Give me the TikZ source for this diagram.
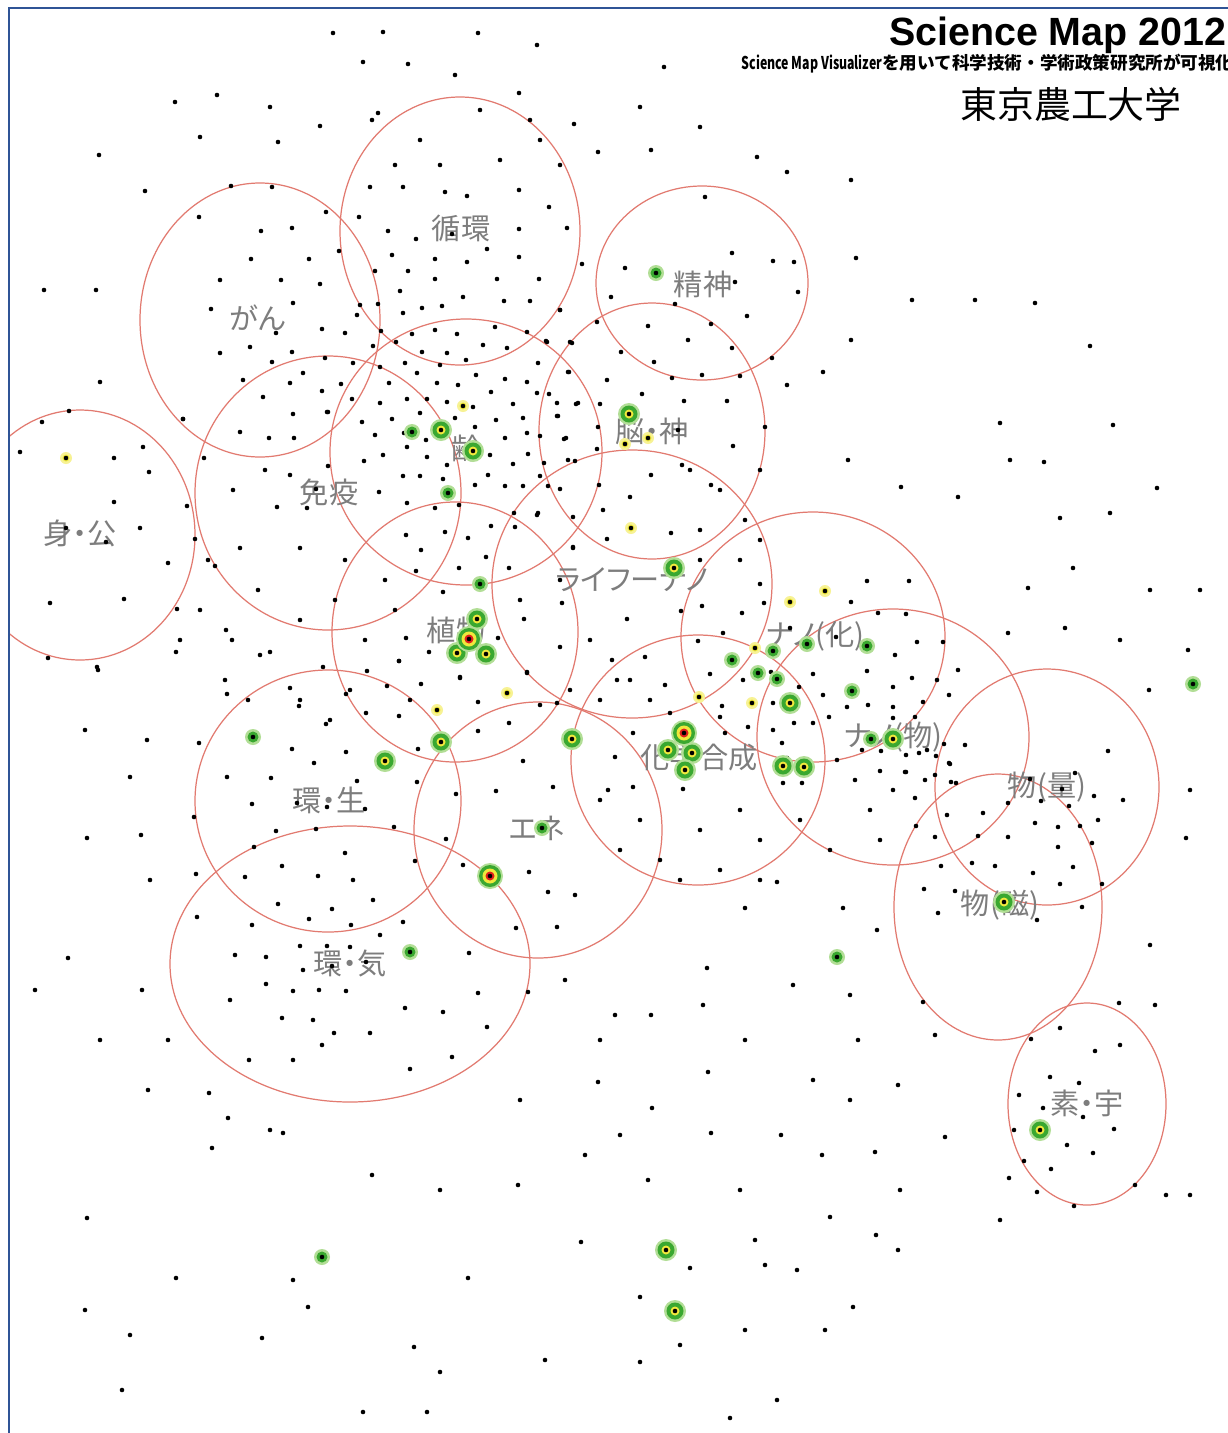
\documentclass[tikz,border=0pt]{standalone}
\usepackage{fontspec}
\usepackage{graphicx}
\setmainfont{Liberation Sans}
\newfontfamily\jpfont[RawFeature=+palt]{Noto Sans CJK JP}
\newfontfamily\jphead{Noto Sans CJK JP}
\usetikzlibrary{positioning}

\definecolor{ringred}{RGB}{226,122,112}
\definecolor{lblgray}{RGB}{125,125,125}
\definecolor{hotgreen}{RGB}{58,168,48}
\definecolor{hothalo}{RGB}{178,222,150}
\definecolor{hotyellow}{RGB}{240,232,60}
\definecolor{hotred}{RGB}{222,32,28}
\definecolor{frameblue}{RGB}{47,84,150}

\begin{document}
\begin{tikzpicture}[
  x=0.01cm, y=-0.01cm,
  ring/.style={draw=ringred, line width=0.35pt},
  area/.style={font=\jpfont\fontsize{8.3}{9}\selectfont, text=lblgray, inner sep=0pt},
  dotc/.style={fill=black},
  head/.style={inner sep=0pt}
]
  \useasboundingbox (0,0) rectangle (1228,1433);
  \fill[white] (0,0) rectangle (1228,1433);

  % frame
  \draw[frameblue, line width=0.6pt] (9,1433) -- (9,8) -- (1228,8);

  % title block
  \node[head, anchor=base east, font=\bfseries\fontsize{11.2}{12}\selectfont] (title) at (1227,45) {Science Map 2012};
  \node[head, anchor=base west, font=\jphead\bfseries\fontsize{5}{6}\selectfont] (subtitle) at (741,69)
    {\resizebox{40pt}{\height}{Science Map Visualizer}を用いて科学技術・学術政策研究所が可視化};
  \node[head, font=\jphead\fontsize{10.5}{12}\selectfont] (univ) at (1071,104) {東京農工大学};

  % research areas (circles)
  \begin{scope}
    \clip (10,9) rectangle (1228,1433);
    \draw[ring] (260,320) ellipse [x radius=120, y radius=137];
    \draw[ring] (460,231) ellipse [x radius=120, y radius=134];
    \draw[ring] (702,283) ellipse [x radius=106, y radius=97];
    \draw[ring] (466,452) ellipse [x radius=136, y radius=133];
    \draw[ring] (328,493) ellipse [x radius=133, y radius=137];
    \draw[ring] (652,431) ellipse [x radius=113, y radius=128];
    \draw[ring] (80,535)  ellipse [x radius=115, y radius=125];
    \draw[ring] (632,584) ellipse [x radius=140, y radius=134];
    \draw[ring] (455,632) ellipse [x radius=123, y radius=130];
    \draw[ring] (813,637) ellipse [x radius=132, y radius=125];
    \draw[ring] (893,737) ellipse [x radius=136, y radius=128];
    \draw[ring] (698,760) ellipse [x radius=127, y radius=125];
    \draw[ring] (328,801) ellipse [x radius=133, y radius=131];
    \draw[ring] (538,830) ellipse [x radius=124, y radius=128];
    \draw[ring] (1047,787) ellipse [x radius=112, y radius=118];
    \draw[ring] (998,907) ellipse [x radius=104, y radius=133];
    \draw[ring] (350,964) ellipse [x radius=180, y radius=138];
    \draw[ring] (1087,1104) ellipse [x radius=79, y radius=101];
  \end{scope}

  % area labels
  \node[area] (junkan) at (461,228) {循環};
  \node[area] (gan) at (258,318) {がん};
  \node[area] (seishin) at (703,284) {精神};
  \node[area] (nou) at (652,431) {脳・神};
  \node[area] (rei) at (466,448) {齢};
  \node[area] (meneki) at (329,492) {免疫};
  \node[area] (shinkou) at (80,533) {身・公};
  \node[area] (life) at (632,580) {ライフーナノ};
  \node[area] (shokubutsu) at (456,630) {植物};
  \node[area] (nanoka) at (815,636) {ナノ(化)};
  \node[area] (nanobutsu) at (893,737) {ナノ(物)};
  \node[area] (kagaku) at (699,757) {化学合成};
  \node[area] (kansei) at (329,800) {環・生};
  \node[area] (ene) at (537,828) {エネ};
  \node[area] (ryoshi) at (1047,787) {物(量)};
  \node[area] (jiki) at (1000,905) {物(磁)};
  \node[area] (kanki) at (350,963) {環・気};
  \node[area] (sou) at (1087,1103) {素・宇};

  % papers: outer and upper left
  \foreach \x/\y in {333/33, 383/32, 478/33, 537/45, 363/62, 408/64, 455/75, 664/67,
      175/102, 217/95, 270/107, 200/137, 278/142, 99/155, 145/191, 231/186, 272/187,
      320/126, 378/113, 519/93, 598/152, 574/124, 44/290, 96/290, 100/382, 20/452,
      372/120, 420/140, 480/110, 540/140, 500/160, 440/165, 395/165, 560/165, 530/120,
      640/107, 700/127, 651/150, 705/197, 757/157, 787/172, 851/180, 794/262}
    \fill[dotc] (\x,\y) circle[radius=0.65pt];

  % papers: がん, 循環
  \foreach \x/\y in {326/212, 199/217, 292/228, 261/231, 251/259, 309/259, 220/280, 281/280,
      320/284, 211/309, 293/303, 276/333, 322/329, 345/333, 220/353, 250/347, 292/352,
      272/362, 325/358, 303/373, 243/380, 290/383, 263/397, 322/391, 293/414, 327/412,
      240/432, 269/438, 294/438, 183/419, 204/458, 265/470, 290/475, 233/490, 316/489,
      277/507, 307/508, 328/466, 370/187, 403/187, 445/192, 467/196, 519/190, 549/207,
      359/217, 388/231, 416/239, 452/234, 487/249, 519/229, 567/228, 392/255, 435/259,
      467/262, 519/257, 375/271, 408/271, 339/251, 435/279, 497/279, 539/279, 400/291,
      463/297, 504/301, 530/301, 360/305, 378/304, 422/308, 442/306, 403/313, 560/310, 357/315}
    \fill[dotc] (\x,\y) circle[radius=0.65pt];

  % papers: 齢, 免疫
  \foreach \x/\y in {381/331, 412/334, 435/330, 457/334, 495/327, 527/332, 373/346, 396/342,
      422/352, 447/353, 483/345, 507/348, 547/342, 570/342, 353/363, 380/367, 405/363,
      440/365, 466/360, 538/363, 568/372, 341/384, 389/383, 417/373, 437/383, 458/385,
      476/375, 505/379, 527/382, 352/399, 380/403, 407/399, 427/399, 447/402, 473/407,
      491/392, 513/404, 537/393, 557/403, 578/403, 328/412, 362/422, 392/419, 420/413,
      455/418, 475/427, 496/420, 523/418, 558/416, 375/435, 404/433, 426/440, 505/438,
      527/433, 540/436, 566/438, 364/461, 383/455, 407/447, 427/457, 447/465, 490/455,
      513/464, 528/454, 540/476, 568/460, 403/476, 420/476, 443/479, 475/485, 488/475,
      505/486, 523/486, 548/486, 379/492, 407/503, 435/508, 459/505, 514/513, 538/513,
      215/566, 240/548, 258/590, 300/548, 345/560, 335/600, 300/620, 365/640, 395/610,
      270/652, 232/640, 200/610, 180/640, 225/680, 290/688, 350/690, 410/700, 330/720,
      300/700, 248/700}
    \fill[dotc] (\x,\y) circle[radius=0.65pt];

  % papers: 精神, 脳・神, ライフーナノ
  \foreach \x/\y in {582/264, 625/268, 732/253, 773/261, 735/282, 798/292, 611/297, 675/304,
      560/310, 747/316, 597/322, 648/326, 711/324, 546/341, 572/343, 688/340, 732/348,
      621/352, 772/358, 654/362, 569/372, 672/378, 702/375, 740/376, 787/385, 607/380,
      642/394, 549/394, 576/404, 600/404, 684/401, 727/401, 557/416, 598/427, 678/430,
      765/427, 564/439, 733/446, 597/449, 575/461, 544/463, 682/465, 651/475, 560/489,
      711/485, 599/485, 630/497, 603/510, 573/517, 671/533, 607/539, 573/547,
      406/535, 445/532, 468/538, 491/526, 515/527, 537/515, 421/550, 486/557, 573/548,
      459/568, 416/571, 509/568, 385/580, 443/592, 560/580, 562/603, 524/619, 406/638,
      498/638, 560/647, 429/652, 399/661, 527/672, 460/677,
      520/600, 590/640, 612/660, 570/690, 540/705, 600/700, 650/700, 630/680,
      690/470, 720/490, 745/520, 700/530, 760/470, 740/560, 700/560, 760/540}
    \fill[dotc] (\x,\y) circle[radius=0.65pt];

  % papers: ナノ, 化学合成, 物理
  \foreach \x/\y in {627/619, 702/606, 681/611, 742/613, 764/603, 760/584, 867/581, 909/581,
      851/602, 878/613, 906/614, 943/642, 698/641, 723/633, 790/628, 836/637, 895/655,
      917/642, 645/657, 710/674, 743/680, 771/672, 799/687, 813/674, 867/671, 893/687,
      912/678, 937/680, 958/670, 617/680, 665/685, 722/706, 773/703, 823/695, 847/707,
      868/705, 893/707, 923/702, 949/695, 670/713, 720/717, 748/727, 794/723, 813/723,
      829/717, 893/718, 915/717, 725/733, 633/733, 773/730, 837/760, 862/750, 881/751,
      906/755, 927/750, 949/763, 615/757, 782/743, 787/758, 633/787, 608/790, 683/789,
      783/783, 802/783, 855/780, 880/771, 905/772, 925/780, 893/790, 951/782,
      600/800, 640/820, 620/850, 660/860, 700/830, 740/810, 760/840, 720/870, 680/880,
      800/820, 830/850, 870/810, 880/840, 760/880, 777/882,
      1108/751, 965/745, 944/744, 919/753, 936/756, 950/764, 906/772, 935/775, 956/783,
      1030/779, 1062/789, 1075/773, 1094/796, 1123/800, 915/798, 947/815, 983/813,
      1008/803, 1041/801, 1069/806, 916/826, 978/836, 1008/837, 1035/823, 1058/827,
      1080/826, 1098/820, 935/837, 1058/847, 1092/843, 941/866, 972/863, 995/866,
      1033/873, 1073/867, 924/889, 955/891, 1060/884, 1102/884, 938/913, 1037/920, 1082/907}
    \fill[dotc] (\x,\y) circle[radius=0.65pt];

  % papers: 身・公, 環・生, エネ, 環・気
  \foreach \x/\y in {42/422, 69/411, 143/447, 114/458, 149/472, 183/419, 114/502, 140/528,
      66/528, 106/542, 187/506, 195/539, 168/563, 50/603, 124/599, 177/609, 176/652,
      48/658, 97/667, 226/630, 208/560, 260/655,
      323/667, 367/671, 399/661, 227/694, 299/706, 346/694, 387/686, 421/684, 460/678,
      527/673, 557/703, 326/724, 366/713, 399/716, 478/702, 509/723, 199/743, 292/749,
      346/752, 418/749, 478/731, 314/763, 227/777, 271/778, 357/781, 417/782, 523/761,
      496/791, 553/787, 252/804, 297/803, 327/807, 365/809, 456/794, 194/817, 276/831,
      316/829, 394/827, 446/839, 254/847, 345/853, 415/861, 463/865, 196/874, 245/877,
      282/866, 318/876, 353/880, 529/872, 548/892, 278/904, 332/909, 373/900, 197/917,
      252/925, 309/919, 351/925, 403/922, 516/928, 557/927, 380/935, 300/946, 327/946,
      350/947, 469/953, 235/955, 266/957, 303/970, 332/966, 366/962, 266/984, 293/991,
      319/990, 346/991, 478/993, 528/992, 230/1000, 405/1008, 443/1012, 282/1018,
      313/1020, 487/1027, 334/1033, 370/1033, 293/1060, 452/1057, 410/1069, 209/1093,
      35/990, 68/958, 100/1040, 142/990, 150/880, 141/835, 87/838, 85/730, 130/777,
      147/740, 98/670, 168/1040, 228/1118, 249/1060, 270/1130, 322/1045, 148/1090}
    \fill[dotc] (\x,\y) circle[radius=0.65pt];

  % papers: right side, 素・宇 and lower part
  \foreach \x/\y in {856/258, 912/300, 975/300, 1035/303, 1090/346, 851/340, 823/372,
      1000/423, 1113/425, 1044/462, 1157/488, 958/497, 901/487, 1010/460, 848/460,
      1060/518, 1110/513, 1150/590, 1200/590, 1028/588, 1073/568, 1008/633, 1065/628,
      1120/640, 1149/690, 1188/650, 1190/790, 1186/838, 1150/945, 1155/1005, 1120/1045,
      1190/1195, 1119/1003, 1060/1028, 1031/1039, 1095/1051, 1050/1077, 1079/1083,
      1019/1095, 1043/1108, 1083/1117, 1014/1130, 1114/1129, 1067/1145, 1093/1153,
      1024/1161, 1051/1169, 1009/1178, 1037/1192, 1135/1185, 1166/1195, 1074/1206,
      793/985, 813/1080, 745/1040, 708/1072, 707/968, 651/1015, 703/1005, 600/1040,
      598/1082, 652/1108, 620/1135, 711/1133, 648/1180, 740/1190, 781/1135, 822/1155,
      850/1100, 898/1085, 945/1137, 935/1035, 858/1040, 615/1015, 565/980, 575/895,
      745/908, 843/908, 877/930, 923/1002, 850/995, 755/1240, 765/1265, 745/1330,
      690/1268, 640/1297, 680/1345, 640/1362, 581/1242, 545/1360, 468/1278, 414/1347,
      440/1372, 518/1185, 440/1190, 372/1175, 283/1133, 212/1148, 176/1278, 87/1218,
      85/1310, 130/1335, 122/1390, 262/1338, 293/1280, 308/1307, 363/1412, 427/1412,
      585/1155, 520/1100, 730/1418, 777/1400, 825/1330, 853/1307, 797/1270, 830/1217,
      876/1235, 898/1250, 900/1190, 1000/1220, 875/1152}
    \fill[dotc] (\x,\y) circle[radius=0.65pt];

  % hot spots: small yellow
  \foreach \x/\y in {463/406, 648/438, 625/444, 631/528, 825/591, 790/602, 755/648,
      752/703, 699/697, 507/693, 437/710, 66/458} {
    \fill[hotyellow!55] (\x,\y) circle[radius=6];
    \fill[hotyellow] (\x,\y) circle[radius=3.5];
    \fill[dotc] (\x,\y) circle[radius=0.65pt];
  }

  % hot spots: small green
  \foreach \x/\y in {656/273, 412/432, 448/493, 480/584, 732/660, 773/651, 807/644,
      758/673, 777/679, 867/646, 852/691, 871/739, 253/737, 410/952, 542/828,
      837/957, 1193/684, 322/1257} {
    \fill[hothalo] (\x,\y) circle[radius=8];
    \fill[hotgreen] (\x,\y) circle[radius=5.5];
    \fill[dotc] (\x,\y) circle[radius=0.65pt];
  }

  % hot spots: green ring, yellow core
  \foreach \x/\y in {441/430, 473/451, 629/414, 674/568, 477/619, 457/653, 486/654,
      790/703, 668/750, 692/753, 685/770, 783/766, 804/767, 893/739, 441/742, 572/739,
      385/761, 1004/902, 1040/1130, 666/1250, 675/1311} {
    \fill[hothalo] (\x,\y) circle[radius=11];
    \fill[hotgreen] (\x,\y) circle[radius=8.5];
    \fill[hotyellow] (\x,\y) circle[radius=4.5];
    \fill[dotc] (\x,\y) circle[radius=0.65pt];
  }

  % hot spots: red core
  \foreach \x/\y in {469/639, 684/733, 490/876} {
    \fill[hothalo] (\x,\y) circle[radius=13];
    \fill[hotgreen] (\x,\y) circle[radius=11];
    \fill[hotyellow] (\x,\y) circle[radius=7.5];
    \fill[hotred] (\x,\y) circle[radius=4.5];
    \fill[dotc] (\x,\y) circle[radius=0.65pt];
  }
\end{tikzpicture}
\end{document}
